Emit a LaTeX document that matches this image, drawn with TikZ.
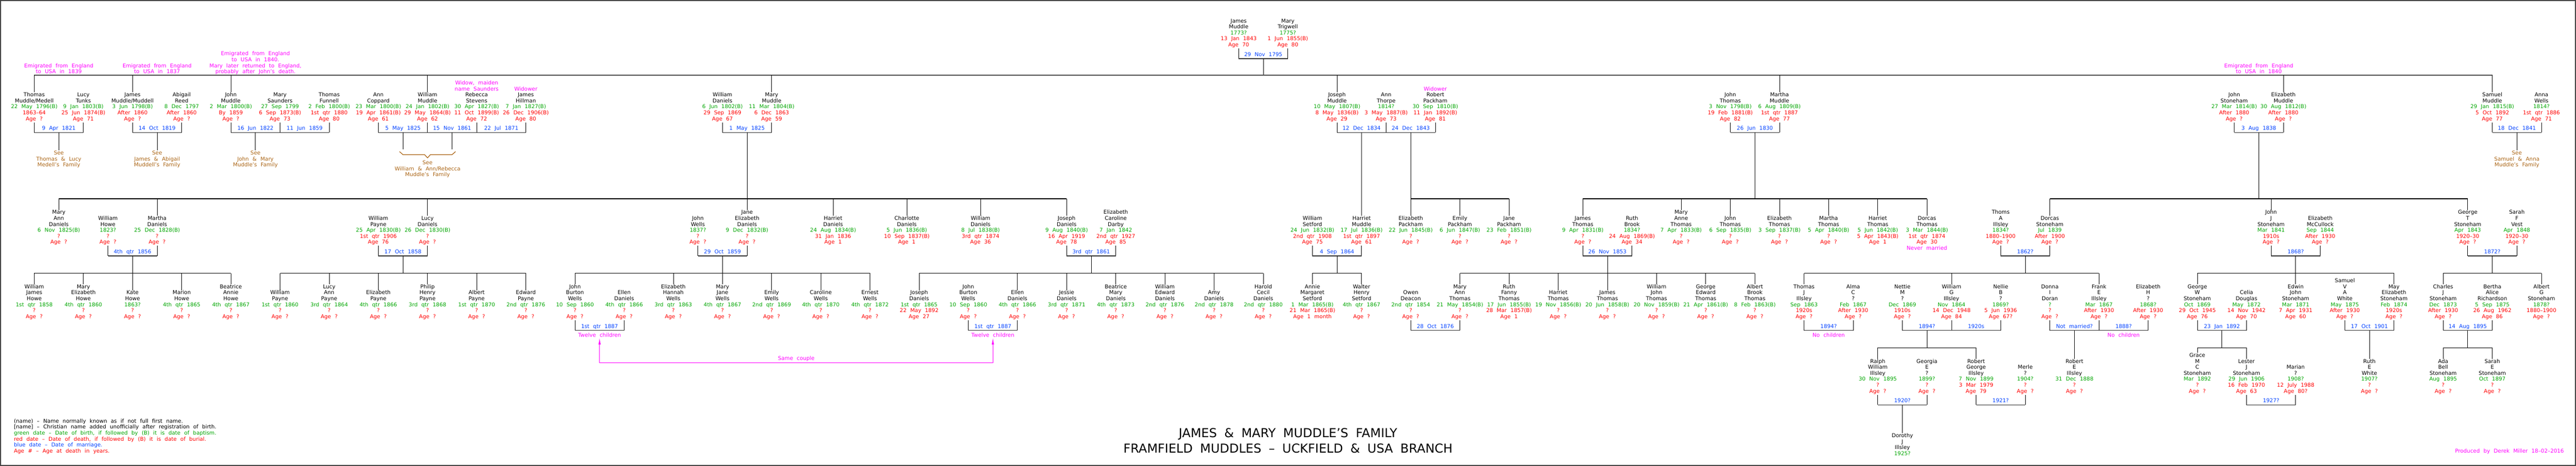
\documentclass[tikz,border=0pt]{standalone}
\usepackage{fontspec}
\setmainfont{DejaVu Sans}
\usetikzlibrary{calc,arrows.meta}
\definecolor{bgr}{RGB}{0,165,0}
\definecolor{drd}{RGB}{255,0,0}
\definecolor{mbl}{RGB}{0,64,255}
\definecolor{nmg}{RGB}{255,0,255}
\definecolor{brn}{RGB}{170,100,20}
\newcommand\bodyfont{\fontsize{11.5}{12.9}\selectfont\spaceskip=0.7em plus 0.1em minus 0.1em\relax}
\newcommand\ttlfont{\fontsize{26.7}{32}\selectfont\spaceskip=0.6em\relax}
\newcommand\Bd[1]{\textcolor{bgr}{#1}}
\newcommand\Dd[1]{\textcolor{drd}{#1}}
\newcommand\Mg[1]{\textcolor{nmg}{#1}}
\newcommand\TB[1]{\begin{tabular}[b]{@{}c@{}}#1\end{tabular}}
\newcommand\TT[1]{\begin{tabular}[t]{@{}c@{}}#1\end{tabular}}
\newcommand\person[7]{\node[per] (#1) at (#2,#3) {\TB{#4\\\Bd{#5}\\\Dd{#6}\\\Dd{#7}}};}
\newcommand\Mar[4]{%
  \draw[stem] (#1.south) -- ($(#1.base)+(0,26)$);
  \draw[stem] (#2.south) -- ($(#2.base)+(0,26)$);
  \draw[brk] ($(#1.base)+(0,26)$) -- ($(#2.base)+(0,26)$);
  \coordinate (#4m) at ($(#1.base)!0.5!(#2.base)+(0,26)$);
  \node[mdate] (#4) at ($(#1.base)!0.5!(#2.base)+(0,21)$) {#3};}
\newcommand\kid[2]{\draw[stem] (#1.north |- 0,#2) -- (#1.north);}
\newcommand\upl[2]{\draw[stem] (#1) -- (#1 |- 0,#2);}
\def\gZ{100.7}
\def\gA{260.7}
\def\gB{527.8}
\def\gC{688.8}
\def\gD{850}
\def\gE{985}
\begin{document}
\begin{tikzpicture}[x=106.3pt,y=-1pt,
  per/.style={anchor=base,inner sep=0pt,font=\bodyfont},
  mdate/.style={anchor=base,inner sep=0pt,font=\bodyfont,text=mbl},
  mnote/.style={anchor=base,inner sep=0pt,font=\bodyfont,text=nmg},
  see/.style={anchor=base,inner sep=0pt,font=\bodyfont,text=brn},
  ttl/.style={anchor=base,inner sep=0pt,font=\ttlfont},
  stem/.style={draw=black,line width=0.9pt},
  brk/.style={draw=black!80,line width=1.8pt},
  gline/.style={draw=black,line width=1.5pt},
  topline/.style={draw=black!70,line width=2pt},
  magl/.style={draw=nmg,line width=1.2pt}]
\useasboundingbox ({-74/106.3},0) rectangle ({5496/106.3},1008);
\draw[black!75,line width=2.5pt] ({-72.75/106.3},1.25) rectangle ({5494.75/106.3},1006.75);

% ---------- generation 0
\person{jm}{24.5}{\gZ}{James\\Muddle}{1773?}{13 Jan 1843}{Age 70}
\person{mt}{25.5}{\gZ}{Mary\\Trigwell}{1775?}{1 Jun 1855(B)}{Age 80}
\Mar{jm}{mt}{29 Nov 1795}{m0}
\upl{m0m}{163}

% ---------- generation 1
\person{a0}{0}{\gA}{Thomas\\Muddle/Medell}{22 May 1796(B)}{1863--64}{Age ?}
\person{a1}{1}{\gA}{Lucy\\Tunks}{9 Jan 1803(B)}{25 Jun 1874(B)}{Age 71}
\person{a2}{2}{\gA}{James\\Muddle/Muddell}{3 Jun 1798(B)}{After 1860}{Age ?}
\person{a3}{3}{\gA}{Abigail\\Reed}{8 Dec 1797}{After 1860}{Age ?}
\person{a4}{4}{\gA}{John\\Muddle}{2 Mar 1800(B)}{By 1859}{Age ?}
\person{a5}{5}{\gA}{Mary\\Saunders}{27 Sep 1799}{6 Sep 1873(B)}{Age 73}
\person{a6}{6}{\gA}{Thomas\\Funnell}{2 Feb 1800(B)}{1st qtr 1880}{Age 80}
\person{a7}{7}{\gA}{Ann\\Coppard}{23 Mar 1800(B)}{19 Apr 1861(B)}{Age 61}
\person{a8}{8}{\gA}{William\\Muddle}{24 Jan 1802(B)}{29 May 1864(B)}{Age 62}
\person{a9}{9}{\gA}{\Mg{Widow, maiden}\\\Mg{name Saunders}\\Rebecca\\Stevens}{30 Apr 1827(B)}{11 Oct 1899(B)}{Age 72}
\person{a10}{10}{\gA}{\Mg{Widower}\\James\\Hillman}{7 Jan 1827(B)}{26 Dec 1906(B)}{Age 80}
\person{a14}{14}{\gA}{William\\Daniels}{6 Jun 1802(B)}{29 Sep 1869}{Age 67}
\person{a15}{15}{\gA}{Mary\\Muddle}{11 Mar 1804(B)}{6 Dec 1863}{Age 59}
\person{a26}{26.5}{\gA}{Joseph\\Muddle}{10 May 1807(B)}{8 May 1836(B)}{Age 29}
\person{a27}{27.5}{\gA}{Ann\\Thorpe}{1814?}{3 May 1887(B)}{Age 73}
\person{a28}{28.5}{\gA}{\Mg{Widower}\\Robert\\Packham}{30 Sep 1810(B)}{11 Jan 1892(B)}{Age 81}
\person{a34}{34.5}{\gA}{John\\Thomas}{3 Nov 1798(B)}{19 Feb 1881(B)}{Age 82}
\person{a35}{35.5}{\gA}{Martha\\Muddle}{6 Aug 1809(B)}{1st qtr 1887}{Age 77}
\person{a44}{44.75}{\gA}{John\\Stoneham}{27 Mar 1814(B)}{After 1880}{Age ?}
\person{a45}{45.75}{\gA}{Elizabeth\\Muddle}{30 Aug 1812(B)}{After 1880}{Age ?}
\person{a50}{50}{\gA}{Samuel\\Muddle}{29 Jan 1815(B)}{5 Oct 1892}{Age 77}
\person{a51}{51}{\gA}{Anna\\Wells}{1814?}{1st qtr 1886}{Age 71}

\draw[topline] (a0.north |- 0,163) -- (a50.north |- 0,163);
\foreach \k in {a0,a2,a4,a8,a15,a26,a35,a45,a50} {\kid{\k}{163}}

\node[mnote] (em1) at (0.5,159) {\TB{Emigrated from England\\to USA in 1839}};
\node[mnote] (em2) at (2.5,159) {\TB{Emigrated from England\\to USA in 1837}};
\node[mnote] (em3) at (4.5,159) {\TB{Emigrated from England\\to USA in 1840.\\Mary later returned to England,\\probably after John's death.}};
\node[mnote] (em4) at (45.25,159) {\TB{Emigrated from England\\to USA in 1840}};

\Mar{a0}{a1}{9 Apr 1821}{m1}
\Mar{a2}{a3}{14 Oct 1819}{m2}
\Mar{a4}{a5}{16 Jun 1822}{m3}
\Mar{a5}{a6}{11 Jun 1859}{m4}
\Mar{a7}{a8}{5 May 1825}{m5}
\Mar{a8}{a9}{15 Nov 1861}{m6}
\Mar{a9}{a10}{22 Jul 1871}{m7}
\Mar{a14}{a15}{1 May 1825}{m8}
\Mar{a26}{a27}{12 Dec 1834}{m9}
\Mar{a27}{a28}{24 Dec 1843}{m10}
\Mar{a34}{a35}{26 Jun 1830}{m11}
\Mar{a44}{a45}{3 Aug 1838}{m12}
\Mar{a50}{a51}{18 Dec 1841}{m13}

\node[see] (s1) at (0.5,335) {\TT{See\\Thomas \& Lucy\\Medell's Family}};
\node[see] (s2) at (2.5,335) {\TT{See\\James \& Abigail\\Muddell's Family}};
\node[see] (s3) at (4.5,335) {\TT{See\\John \& Mary\\Muddle's Family}};
\node[see] (s4) at (8,356) {\TT{See\\William \& Ann/Rebecca\\Muddle's Family}};
\node[see] (s5) at (50.5,335) {\TT{See\\Samuel \& Anna\\Muddle's Family}};
\draw[stem] (m1m) -- (s1.north);
\draw[stem] (m2m) -- (s2.north);
\draw[stem] (m3m) -- (s3.north);
\draw[stem] (m13m) -- (s5.north);
\upl{m5m}{323}
\upl{m6m}{323}
\draw[brn,line width=1.4pt] (7.43,328) -- (7.5,334.5) -- (7.94,334.5) -- (8,341.5) -- (8.06,334.5) -- (8.5,334.5) -- (8.57,328);

% ---------- generation 2
\person{b0}{0.5}{\gB}{Mary\\Ann\\Daniels}{6 Nov 1825(B)}{?}{Age ?}
\person{b1}{1.5}{\gB}{William\\Howe}{1823?}{?}{Age ?}
\person{b2}{2.5}{\gB}{Martha\\Daniels}{25 Dec 1828(B)}{?}{Age ?}
\person{b7}{7}{\gB}{William\\Payne}{25 Apr 1830(B)}{1st qtr 1906}{Age 76}
\person{b8}{8}{\gB}{Lucy\\Daniels}{26 Dec 1830(B)}{?}{Age ?}
\person{b13}{13.5}{\gB}{John\\Wells}{1837?}{?}{Age ?}
\person{b14}{14.5}{\gB}{Jane\\Elizabeth\\Daniels}{9 Dec 1832(B)}{?}{Age ?}
\person{b16}{16.25}{\gB}{Harriet\\Daniels}{24 Aug 1834(B)}{31 Jan 1836}{Age 1}
\person{b17}{17.75}{\gB}{Charlotte\\Daniels}{5 Jun 1836(B)}{10 Sep 1837(B)}{Age 1}
\person{b19}{19.25}{\gB}{William\\Daniels}{8 Jul 1838(B)}{3rd qtr 1874}{Age 36}
\person{b21}{21}{\gB}{Joseph\\Daniels}{9 Aug 1840(B)}{16 Apr 1919}{Age 78}
\person{b22}{22}{\gB}{Elizabeth\\Caroline\\Darby}{7 Jan 1842}{2nd qtr 1927}{Age 85}
\person{b26}{26}{\gB}{William\\Setford}{24 Jun 1832(B)}{2nd qtr 1908}{Age 75}
\person{b27}{27}{\gB}{Harriet\\Muddle}{17 Jul 1836(B)}{1st qtr 1897}{Age 61}
\person{b28}{28}{\gB}{Elizabeth\\Packham}{22 Jun 1845(B)}{?}{Age ?}
\person{b29}{29}{\gB}{Emily\\Packham}{6 Jun 1847(B)}{?}{Age ?}
\person{b30}{30}{\gB}{Jane\\Packham}{23 Feb 1851(B)}{?}{Age ?}
\person{b31}{31.5}{\gB}{James\\Thomas}{9 Apr 1831(B)}{?}{Age ?}
\person{b32}{32.5}{\gB}{Ruth\\Brook}{1834?}{24 Aug 1869(B)}{Age 34}
\person{b33}{33.5}{\gB}{Mary\\Anne\\Thomas}{7 Apr 1833(B)}{?}{Age ?}
\person{b34}{34.5}{\gB}{John\\Thomas}{6 Sep 1835(B)}{?}{Age ?}
\person{b35}{35.5}{\gB}{Elizabeth\\Thomas}{3 Sep 1837(B)}{?}{Age ?}
\person{b36}{36.5}{\gB}{Martha\\Thomas}{5 Apr 1840(B)}{?}{Age ?}
\person{b37}{37.5}{\gB}{Harriet\\Thomas}{5 Jun 1842(B)}{5 Apr 1843(B)}{Age 1}
\person{b38}{38.5}{\gB}{Dorcas\\Thomas}{3 Mar 1844(B)}{1st qtr 1874}{Age 30}
\node[mnote] (nm) at (38.5,540.7) {Never married};
\person{b40}{40}{\gB}{Thoms\\A\\Illsley}{1834?}{1880--1900}{Age ?}
\person{b41}{41}{\gB}{Dorcas\\Stoneham}{Jul 1839}{After 1900}{Age ?}
\person{b45}{45.5}{\gB}{John\\J\\Stoneham}{Mar 1841}{1910s}{Age ?}
\person{b46}{46.5}{\gB}{Elizabeth\\McCullock}{Sep 1844}{After 1930}{Age ?}
\person{b49}{49.5}{\gB}{George\\T\\Stoneham}{Apr 1843}{1920--30}{Age ?}
\person{b50}{50.5}{\gB}{Sarah\\F\\Vest}{Apr 1848}{1920--30}{Age ?}

\draw[gline] (b0.north |- 0,430) -- (b21.north |- 0,430);
\upl{m8m}{430}
\foreach \k in {b0,b2,b8,b14,b16,b17,b19,b21} {\kid{\k}{430}}
\draw[stem] (m9m) -- (b27.north);
\draw[gline] (b28.north |- 0,430) -- (b30.north |- 0,430);
\upl{m10m}{430}
\foreach \k in {b28,b29,b30} {\kid{\k}{430}}
\draw[gline] (b31.north |- 0,430) -- (b38.north |- 0,430);
\upl{m11m}{430}
\foreach \k in {b31,b33,b34,b35,b36,b37,b38} {\kid{\k}{430}}
\draw[gline] (b41.north |- 0,430) -- (b49.north |- 0,430);
\upl{m12m}{430}
\foreach \k in {b41,b45,b49} {\kid{\k}{430}}

\Mar{b1}{b2}{4th qtr 1856}{n1}
\Mar{b7}{b8}{17 Oct 1858}{n2}
\Mar{b13}{b14}{29 Oct 1859}{n3}
\Mar{b21}{b22}{3rd qtr 1861}{n4}
\Mar{b26}{b27}{4 Sep 1864}{n5}
\Mar{b31}{b32}{26 Nov 1853}{n6}
\Mar{b40}{b41}{1862?}{n7}
\Mar{b45}{b46}{1868?}{n8}
\Mar{b49}{b50}{1872?}{n9}

% ---------- generation 3
\person{c0}{0}{\gC}{William\\James\\Howe}{1st qtr 1858}{?}{Age ?}
\person{c1}{1}{\gC}{Mary\\Elizabeth\\Howe}{4th qtr 1860}{?}{Age ?}
\person{c2}{2}{\gC}{Kate\\Howe}{1863?}{?}{Age ?}
\person{c3}{3}{\gC}{Marion\\Howe}{4th qtr 1865}{?}{Age ?}
\person{c4}{4}{\gC}{Beatrice\\Annie\\Howe}{4th qtr 1867}{?}{Age ?}
\person{c5}{5}{\gC}{William\\Payne}{1st qtr 1860}{?}{Age ?}
\person{c6}{6}{\gC}{Lucy\\Ann\\Payne}{3rd qtr 1864}{?}{Age ?}
\person{c7}{7}{\gC}{Elizabeth\\Payne}{4th qtr 1866}{?}{Age ?}
\person{c8}{8}{\gC}{Philip\\Henry\\Payne}{3rd qtr 1868}{?}{Age ?}
\person{c9}{9}{\gC}{Albert\\Payne}{1st qtr 1870}{?}{Age ?}
\person{c10}{10}{\gC}{Edward\\Payne}{2nd qtr 1876}{?}{Age ?}
\person{c11}{11}{\gC}{John\\Burton\\Wells}{10 Sep 1860}{?}{Age ?}
\person{c12}{12}{\gC}{Ellen\\Daniels}{4th qtr 1866}{?}{Age ?}
\person{c13}{13}{\gC}{Elizabeth\\Hannah\\Wells}{3rd qtr 1863}{?}{Age ?}
\person{c14}{14}{\gC}{Mary\\Jane\\Wells}{4th qtr 1867}{?}{Age ?}
\person{c15}{15}{\gC}{Emily\\Wells}{2nd qtr 1869}{?}{Age ?}
\person{c16}{16}{\gC}{Caroline\\Wells}{4th qtr 1870}{?}{Age ?}
\person{c17}{17}{\gC}{Ernest\\Wells}{4th qtr 1872}{?}{Age ?}
\person{c18}{18}{\gC}{Joseph\\Daniels}{1st qtr 1865}{22 May 1892}{Age 27}
\person{c19}{19}{\gC}{John\\Burton\\Wells}{10 Sep 1860}{?}{Age ?}
\person{c20}{20}{\gC}{Ellen\\Daniels}{4th qtr 1866}{?}{Age ?}
\person{c21}{21}{\gC}{Jessie\\Daniels}{3rd qtr 1871}{?}{Age ?}
\person{c22}{22}{\gC}{Beatrice\\Mary\\Daniels}{4th qtr 1873}{?}{Age ?}
\person{c23}{23}{\gC}{William\\Edward\\Daniels}{2nd qtr 1876}{?}{Age ?}
\person{c24}{24}{\gC}{Amy\\Daniels}{2nd qtr 1878}{?}{Age ?}
\person{c25}{25}{\gC}{Harold\\Cecil\\Daniels}{2nd qtr 1880}{?}{Age ?}
\person{c26}{26}{\gC}{Annie\\Margaret\\Setford}{1 Mar 1865(B)}{21 Mar 1865(B)}{Age 1 month}
\person{c27}{27}{\gC}{Walter\\Henry\\Setford}{4th qtr 1867}{?}{Age ?}
\person{c28}{28}{\gC}{Owen\\Deacon}{2nd qtr 1854}{?}{Age ?}
\person{c29}{29}{\gC}{Mary\\Ann\\Thomas}{21 May 1854(B)}{?}{Age ?}
\person{c30}{30}{\gC}{Ruth\\Fanny\\Thomas}{17 Jun 1855(B)}{28 Mar 1857(B)}{Age 1}
\person{c31}{31}{\gC}{Harriet\\Thomas}{19 Nov 1856(B)}{?}{Age ?}
\person{c32}{32}{\gC}{James\\Thomas}{20 Jun 1858(B)}{?}{Age ?}
\person{c33}{33}{\gC}{William\\John\\Thomas}{20 Nov 1859(B)}{?}{Age ?}
\person{c34}{34}{\gC}{George\\Edward\\Thomas}{21 Apr 1861(B)}{?}{Age ?}
\person{c35}{35}{\gC}{Albert\\Brook\\Thomas}{8 Feb 1863(B)}{?}{Age ?}
\person{c36}{36}{\gC}{Thomas\\J\\Illsley}{Sep 1863}{1920s}{Age ?}
\person{c37}{37}{\gC}{Alma\\C\\?}{Feb 1867}{After 1930}{Age ?}
\person{c38}{38}{\gC}{Nettie\\M\\?}{Dec 1869}{1910s}{Age ?}
\person{c39}{39}{\gC}{William\\G\\Illsley}{Nov 1864}{14 Dec 1948}{Age 84}
\person{c40}{40}{\gC}{Nellie\\B\\?}{1869?}{5 Jun 1936}{Age 67?}
\person{c41}{41}{\gC}{Donna\\I\\Doran}{?}{?}{Age ?}
\person{c42}{42}{\gC}{Frank\\E\\Illsley}{Mar 1867}{After 1930}{Age ?}
\person{c43}{43}{\gC}{Elizabeth\\H\\?}{1868?}{After 1930}{Age ?}
\person{c44}{44}{\gC}{George\\W\\Stoneham}{Oct 1869}{29 Oct 1945}{Age 76}
\person{c45}{45}{\gC}{Celia\\Douglas}{May 1872}{14 Nov 1942}{Age 70}
\person{c46}{46}{\gC}{Edwin\\John\\Stoneham}{Mar 1871}{7 Apr 1931}{Age 60}
\person{c47}{47}{\gC}{Samuel\\V\\A\\White}{May 1875}{After 1930}{Age ?}
\person{c48}{48}{\gC}{May\\Elizabeth\\Stoneham}{Feb 1874}{1920s}{Age ?}
\person{c49}{49}{\gC}{Charles\\J\\Stoneham}{Dec 1873}{After 1930}{Age ?}
\person{c50}{50}{\gC}{Bertha\\Alice\\Richardson}{5 Sep 1875}{26 Aug 1962}{Age 86}
\person{c51}{51}{\gC}{Albert\\G\\Stoneham}{1878?}{1880--1900}{Age ?}

\draw[gline] (c0.north |- 0,591) -- (c4.north |- 0,591);
\upl{n1m}{591}
\foreach \k in {c0,c1,c2,c3,c4} {\kid{\k}{591}}
\draw[gline] (c5.north |- 0,591) -- (c10.north |- 0,591);
\upl{n2m}{591}
\foreach \k in {c5,c6,c7,c8,c9,c10} {\kid{\k}{591}}
\draw[gline] (c11.north |- 0,591) -- (c17.north |- 0,591);
\upl{n3m}{591}
\foreach \k in {c11,c13,c14,c15,c16,c17} {\kid{\k}{591}}
\draw[gline] (c18.north |- 0,591) -- (c25.north |- 0,591);
\upl{n4m}{591}
\foreach \k in {c18,c20,c21,c22,c23,c24,c25} {\kid{\k}{591}}
\draw[gline] (c26.north |- 0,591) -- (c27.north |- 0,591);
\upl{n5m}{591}
\foreach \k in {c26,c27} {\kid{\k}{591}}
\draw[gline] (c29.north |- 0,591) -- (c35.north |- 0,591);
\upl{n6m}{591}
\foreach \k in {c29,c30,c31,c32,c33,c34,c35} {\kid{\k}{591}}
\draw[gline] (c36.north |- 0,591) -- (c42.north |- 0,591);
\upl{n7m}{591}
\foreach \k in {c36,c39,c42} {\kid{\k}{591}}
\draw[gline] (c44.north |- 0,591) -- (c48.north |- 0,591);
\upl{n8m}{591}
\foreach \k in {c44,c46,c48} {\kid{\k}{591}}
\draw[gline] (c49.north |- 0,591) -- (c51.north |- 0,591);
\upl{n9m}{591}
\foreach \k in {c49,c51} {\kid{\k}{591}}

\Mar{c11}{c12}{1st qtr 1887}{o1}
\Mar{c19}{c20}{1st qtr 1887}{o2}
\Mar{c28}{c29}{28 Oct 1876}{o3}
\Mar{c36}{c37}{1894?}{o4}
\Mar{c38}{c39}{1894?}{o5}
\Mar{c39}{c40}{1920s}{o6}
\Mar{c41}{c42}{Not married?}{o7}
\Mar{c42}{c43}{1888?}{o8}
\Mar{c44}{c45}{23 Jan 1892}{o9}
\Mar{c47}{c48}{17 Oct 1901}{o10}
\Mar{c49}{c50}{14 Aug 1895}{o11}

\node[mnote] (tc1) at (11.5,728.7) {Twelve children};
\node[mnote] (tc2) at (19.5,728.7) {Twelve children};
\node[mnote] (nc1) at (36.5,728.7) {No children};
\node[mnote] (nc2) at (42.5,728.7) {No children};
\node[mnote] (sc) at (15.5,779) {Same couple};
\draw[magl,{Latex[length=14pt,width=5pt]}-{Latex[length=14pt,width=5pt]}]
  ($(tc1.south)+(0,2)$) -- ($(tc1.south)+(0,56)$) -| ($(tc2.south)+(0,2)$);

% ---------- generation 4
\person{d37}{37.5}{\gD}{Ralph\\William\\Illsley}{30 Nov 1895}{?}{Age ?}
\person{d38}{38.5}{\gD}{Georgia\\E\\?}{1899?}{?}{Age ?}
\person{d39}{39.5}{\gD}{Robert\\George\\Illsley}{7 Nov 1899}{3 Mar 1979}{Age 79}
\person{d40}{40.5}{\gD}{Merle\\?}{1904?}{?}{Age ?}
\person{d41}{41.5}{\gD}{Robert\\E\\Illsley}{31 Dec 1888}{?}{Age ?}
\person{d44}{44}{\gD}{Grace\\M\\C\\Stoneham}{Mar 1892}{?}{Age ?}
\person{d45}{45}{\gD}{Lester\\J\\Stoneham}{29 Jun 1906}{16 Feb 1970}{Age 63}
\person{d46}{46}{\gD}{Marian\\?}{1908?}{12 July 1988}{Age 80?}
\person{d47}{47.5}{\gD}{Ruth\\E\\White}{1907?}{?}{Age ?}
\person{d49}{49}{\gD}{Ada\\Bell\\Stoneham}{Aug 1895}{?}{Age ?}
\person{d50}{50}{\gD}{Sarah\\E\\Stoneham}{Oct 1897}{?}{Age ?}

\draw[gline] (d37.north |- 0,752.5) -- (d39.north |- 0,752.5);
\upl{o5m}{752.5}
\foreach \k in {d37,d39} {\kid{\k}{752.5}}
\draw[stem] (o7m) -- (d41.north);
\draw[gline] (d44.north |- 0,752.5) -- (d45.north |- 0,752.5);
\upl{o9m}{752.5}
\foreach \k in {d44,d45} {\kid{\k}{752.5}}
\draw[stem] (o10m) -- (d47.north);
\draw[gline] (d49.north |- 0,752.5) -- (d50.north |- 0,752.5);
\upl{o11m}{752.5}
\foreach \k in {d49,d50} {\kid{\k}{752.5}}

\Mar{d37}{d38}{1920?}{q1}
\Mar{d39}{d40}{1921?}{q2}
\Mar{d45}{d46}{1927?}{q3}

% ---------- generation 5
\node[per] (e38) at (38,\gE) {\TB{Dorothy\\J\\Illsley\\\Bd{1925?}}};
\draw[stem] (q1m) -- (e38.north);

% ---------- title, legend, credit
\node[ttl] (t1) at ({2711/106.3},946) {JAMES \& MARY MUDDLE'S FAMILY};
\node[ttl] (t2) at ({2711/106.3},980) {FRAMFIELD MUDDLES -- UCKFIELD \& USA BRANCH};
\node[per,anchor=base west] (leg) at ({-44/106.3},915) {\begin{tabular}[t]{@{}l@{}}
(name) -- Name normally known as if not full first name.\\
{[name]} -- Christian name added unofficially after registration of birth.\\
\Bd{green date -- Date of birth, if followed by (B) it is date of baptism.}\\
\Dd{red date -- Date of death, if followed by (B) it is date of burial.}\\
\textcolor{mbl}{blue date -- Date of marriage.}\\
\Dd{Age \# -- Age at death in years.}
\end{tabular}};
\node[mnote,anchor=base east] (cr) at ({5470/106.3},980) {Produced by Derek Miller 18--02--2016};
\end{tikzpicture}
\end{document}
